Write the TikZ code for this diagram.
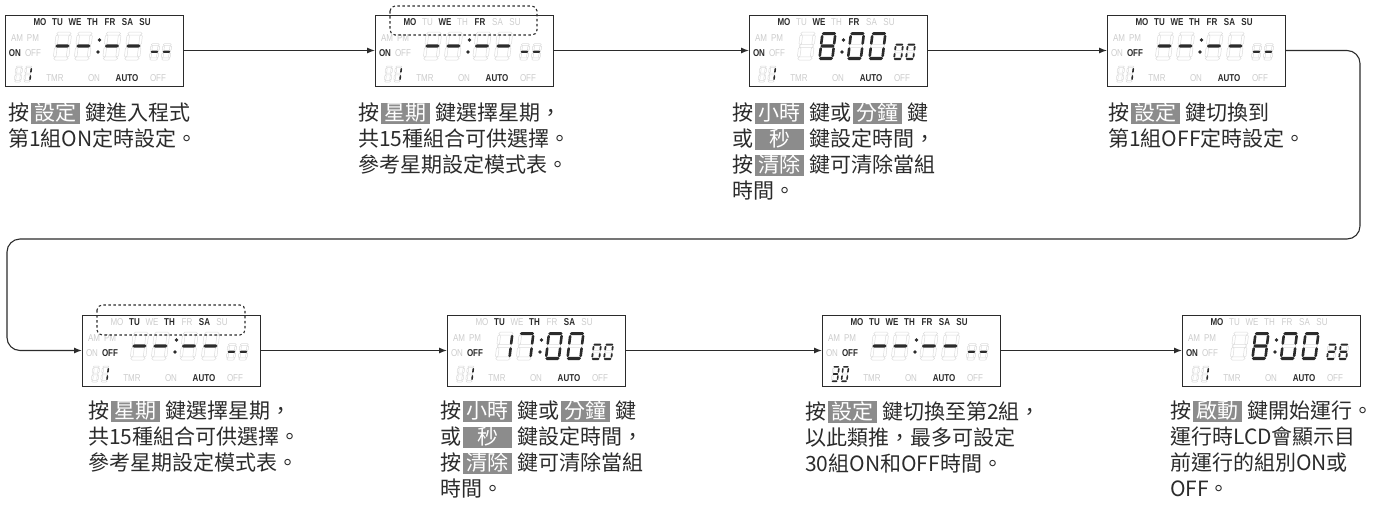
\documentclass[tikz,border=0pt]{standalone}
\usepackage{fontspec}
\setmainfont{Noto Sans CJK TC}
\newfontfamily\notefont{Noto Sans CJK TC}
\newfontfamily\lcdfont[FakeStretch=0.8]{Liberation Sans}
\usetikzlibrary{arrows.meta, positioning}
\definecolor{keygray}{HTML}{8C8C8C}
\definecolor{inkgray}{HTML}{2B2B2B}

% gray key label inside the notes
\newcommand{\keybox}[1]{{\setlength{\fboxsep}{0pt}\hspace{2pt}\colorbox{keygray}{\makebox[49pt]{\rule[-3.5pt]{0pt}{21pt}\textcolor{white}{#1}}}\hspace{5pt}}}

\makeatletter
\newcommand{\lcdlit}[2]{\edef\lcd@tmp{\noexpand\in@{#1}{#2}}\lcd@tmp}
\newcommand{\lcdseg}[3]{\in@{#1}{#2}\ifin@\fill[segon] #3;\else\draw[segoff] #3;\fi}
% pointed segments: name, lit list, centre, start, end
\newcommand{\hseg}[5]{\lcdseg{#1}{#2}{(#4,#3) -- (#4+\th/2,#3+\th/2) -- (#5-\th/2,#3+\th/2) -- (#5,#3)
  -- (#5-\th/2,#3-\th/2) -- (#4+\th/2,#3-\th/2) -- cycle}}
\newcommand{\vseg}[5]{\lcdseg{#1}{#2}{(#3,#4) -- (#3+\tv/2,#4+\tv/2) -- (#3+\tv/2,#5-\tv/2) -- (#3,#5)
  -- (#3-\tv/2,#5-\tv/2) -- (#3-\tv/2,#4+\tv/2) -- cycle}}
% one seven segment digit: x, bottom, width, height, lit segments
\newcommand{\lcddigit}[5]{%
  \begin{scope}[shift={(#1,#2)}, x=1pt, y=1pt, xslant=0.12]
    \pgfmathsetmacro\sw{#3}\pgfmathsetmacro\sh{#4}
    \pgfmathsetmacro\th{#4>20 ? 3.2 : (#3>8 ? 2.2 : 1.6)}
    \pgfmathsetmacro\tv{#4>20 ? 2.6 : (#3>8 ? 1.8 : 1.6)}
    \hseg{a}{#5}{\sh-\th/2}{.6}{\sw-.6}
    \hseg{g}{#5}{\sh/2}{.6}{\sw-.6}
    \hseg{d}{#5}{\th/2}{.6}{\sw-.6}
    \vseg{f}{#5}{\tv/2}{\sh/2+1.2}{\sh-\th/2-1.2}
    \vseg{b}{#5}{\sw-\tv/2}{\sh/2+1.2}{\sh-\th/2-1.2}
    \vseg{e}{#5}{\tv/2}{\th/2+1.2}{\sh/2-1.2}
    \vseg{c}{#5}{\sw-\tv/2}{\th/2+1.2}{\sh/2-1.2}
  \end{scope}}
% frame and labels: name, lit days, ON or OFF
\newcommand{\lcdframe}[3]{%
  \node[panel] (#1) at (0,0) {};
  \foreach \d [count=\i from 0] in {MO,TU,WE,TH,FR,SA,SU}{
    \lcdlit{\d}{#2}\ifin@\def\lcdstyle{lcdon}\else\def\lcdstyle{lcdoff}\fi
    \node[\lcdstyle] (#1-\d) at ({35+17.5*\i},7) {\d};}
  \node[lcdoff] (#1-am) at (12,23) {AM};
  \node[lcdoff] (#1-pm) at (28,23) {PM};
  \lcdlit{ON}{#3}\ifin@\def\lcdstyle{lcdon}\else\def\lcdstyle{lcdoff}\fi
  \node[\lcdstyle] (#1-on) at (10,38) {ON};
  \lcdlit{OFF}{#3}\ifin@\def\lcdstyle{lcdon}\else\def\lcdstyle{lcdoff}\fi
  \node[\lcdstyle] (#1-off) at (28,38) {OFF};
  \node[lcdoff] (#1-tmr) at (50,63) {TMR};
  \node[lcdoff] (#1-on2) at (89,63) {ON};
  \node[lcdon] (#1-auto) at (122,63) {AUTO};
  \node[lcdoff] (#1-off2) at (153,63) {OFF};}
% clock digits
\newcommand{\lcdtime}[6]{%
  \lcddigit{48}{45}{15.5}{28}{#1}
  \lcddigit{69}{45}{15.5}{28}{#2}
  \fill[segon] (94.5,25) circle (1.8pt) (93,37) circle (1.8pt);
  \lcddigit{97.5}{45}{15.5}{28}{#3}
  \lcddigit{119}{45}{15.5}{28}{#4}
  \lcddigit{144}{45}{9}{16.5}{#5}
  \lcddigit{156}{45}{9}{16.5}{#6}}
% group number
\newcommand{\lcdgroup}[2]{%
  \lcddigit{9}{67}{7}{16}{#1}
  \lcddigit{18.5}{67}{7}{16}{#2}}
\makeatother

\begin{document}
\begin{tikzpicture}[x=1pt, y=-1pt,
  panel/.style={draw=inkgray, line width=1pt, minimum width=178pt, minimum height=71pt,
    anchor=north west, inner sep=0pt, outer sep=0pt},
  lcdon/.style={font=\lcdfont\bfseries\fontsize{10}{10}\selectfont, text=inkgray, inner sep=0pt},
  lcdoff/.style={font=\lcdfont\fontsize{10}{10}\selectfont, text=black!20, inner sep=0pt},
  segon/.style={fill=inkgray},
  segoff/.style={draw=black!14, line width=0.5pt},
  daysel/.style={draw=inkgray, line width=1.1pt, dash pattern=on 2.5pt off 2.5pt, rounded corners=5pt},
  conn/.style={draw=inkgray, line width=1.1pt},
  arr/.style={-{Latex[length=8pt,width=6pt]}},
  note/.style={anchor=north west, align=left, inner sep=0pt, text=inkgray,
    font=\notefont\fontsize{21}{26}\selectfont}]

  \useasboundingbox (0,0) rectangle (1388,506);

  % first row
  \begin{scope}[shift={(5,15)}]
    \lcdframe{p1}{MO,TU,WE,TH,FR,SA,SU}{ON}
    \lcdtime{g}{g}{g}{g}{g}{g}
    \lcdgroup{}{bc}
  \end{scope}
  \begin{scope}[shift={(375,15)}]
    \lcdframe{p2}{MO,WE,FR}{ON}
    \lcdtime{g}{g}{g}{g}{g}{g}
    \lcdgroup{}{bc}
    \draw[daysel] (15,-9) rectangle (162,20);
  \end{scope}
  \begin{scope}[shift={(749,15)}]
    \lcdframe{p3}{MO,WE,FR}{ON}
    \lcdtime{}{abcdefg}{abcdef}{abcdef}{abcdef}{abcdef}
    \lcdgroup{}{bc}
  \end{scope}
  \begin{scope}[shift={(1107,15)}]
    \lcdframe{p4}{MO,TU,WE,TH,FR,SA,SU}{OFF}
    \lcdtime{g}{g}{g}{g}{g}{g}
    \lcdgroup{}{bc}
  \end{scope}

  % second row
  \begin{scope}[shift={(82,315)}]
    \lcdframe{p5}{TU,TH,SA}{OFF}
    \lcdtime{g}{g}{g}{g}{g}{g}
    \lcdgroup{}{bc}
    \draw[daysel] (15,-10) rectangle (163,20);
  \end{scope}
  \begin{scope}[shift={(447,315)}]
    \lcdframe{p6}{TU,TH,SA}{OFF}
    \lcdtime{bc}{abc}{abcdef}{abcdef}{abcdef}{abcdef}
    \lcdgroup{}{bc}
  \end{scope}
  \begin{scope}[shift={(822,315)}]
    \lcdframe{p7}{MO,TU,WE,TH,FR,SA,SU}{OFF}
    \lcdtime{g}{g}{g}{g}{g}{g}
    \lcdgroup{abcdg}{abcdef}
  \end{scope}
  \begin{scope}[shift={(1182,315)}]
    \lcdframe{p8}{MO}{ON}
    \lcdtime{}{abcdefg}{abcdef}{abcdef}{abdeg}{acdefg}
    \lcdgroup{}{bc}
  \end{scope}

  % connectors
  \draw[conn, arr] (p1.east) -- (p2.west);
  \draw[conn, arr] (p2.east) -- (p3.west);
  \draw[conn, arr] (p3.east) -- (p4.west);
  \coordinate (turnR) at (1360,239);
  \coordinate (turnL) at (7,239);
  \draw[conn, arr, rounded corners=13pt] (p4.east) -| (turnR) -- (turnL) |- (p5.west);
  \draw[conn, arr] (p5.east) -- (p6.west);
  \draw[conn, arr] (p6.east) -- (p7.west);
  \draw[conn, arr] (p7.east) -- (p8.west);

  % notes
  \node[note] (n1) at (8,102.5) {按\keybox{設定}鍵進入程式\\第1組ON定時設定。};
  \node[note] (n2) at (358,102.5) {按\keybox{星期}鍵選擇星期，\\共15種組合可供選擇。\\參考星期設定模式表。};
  \node[note] (n3) at (732,102.5) {按\keybox{小時}鍵或\keybox{分鐘}鍵\\或\keybox{秒}鍵設定時間，\\按\keybox{清除}鍵可清除當組\\時間。};
  \node[note] (n4) at (1108,102.5) {按\keybox{設定}鍵切換到\\第1組OFF定時設定。};
  \node[note] (n5) at (88,401) {按\keybox{星期}鍵選擇星期，\\共15種組合可供選擇。\\參考星期設定模式表。};
  \node[note] (n6) at (440,401) {按\keybox{小時}鍵或\keybox{分鐘}鍵\\或\keybox{秒}鍵設定時間，\\按\keybox{清除}鍵可清除當組\\時間。};
  \node[note] (n7) at (805,401) {按\keybox{設定}鍵切換至第2組，\\以此類推，最多可設定\\30組ON和OFF時間。};
  \node[note] (n8) at (1170,401) {按\keybox{啟動}鍵開始運行。\\運行時LCD會顯示目\\前運行的組別ON或\\OFF。};
\end{tikzpicture}
\end{document}
